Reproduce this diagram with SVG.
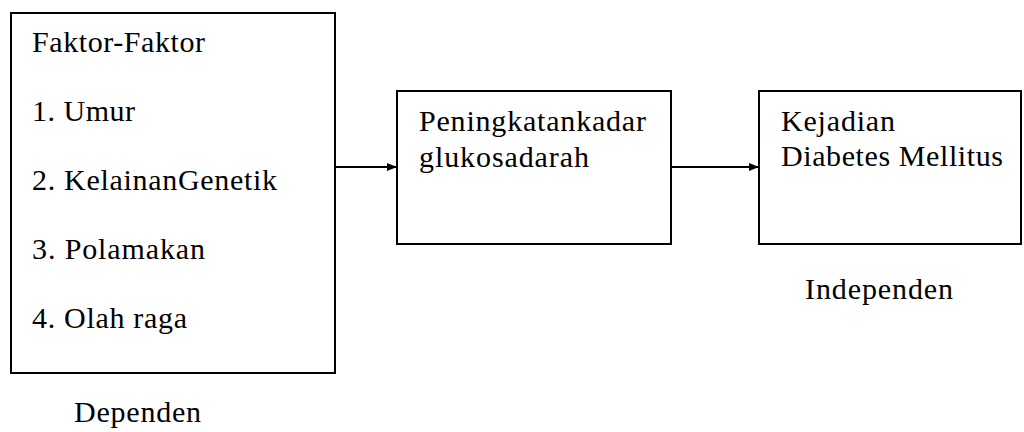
<svg xmlns="http://www.w3.org/2000/svg" width="1024" height="432" viewBox="0 0 1024 432">
<style>
.box{fill:#fff;stroke:#000;stroke-width:2}
.c{stroke:#000;stroke-width:2;fill:none}
</style>
<defs>
<marker id="ah" markerWidth="10" markerHeight="8" refX="9" refY="4" orient="auto" markerUnits="userSpaceOnUse">
<path d="M0,0 L10,4 L0,8 Z" fill="#000"/>
</marker>
</defs>
<rect width="1024" height="432" fill="#fff"/>
<g font-family="Liberation Serif, Times New Roman, serif" font-size="30" fill="#000">
<g id="faktor">
<rect class="box" x="11" y="13" width="324" height="360"/>
<text x="32" y="52" textLength="173" lengthAdjust="spacing">Faktor-Faktor</text>
<text x="32" y="121" textLength="103" lengthAdjust="spacing">1. Umur</text>
<text x="32" y="190" textLength="245" lengthAdjust="spacing">2. KelainanGenetik</text>
<text x="32" y="259" textLength="173" lengthAdjust="spacing">3. Polamakan</text>
<text x="32" y="328" textLength="155" lengthAdjust="spacing">4. Olah raga</text>
</g>
<g id="dependen">
<text x="74" y="422" textLength="127" lengthAdjust="spacing">Dependen</text>
</g>
<g id="peningkatan">
<rect class="box" x="397" y="91" width="274" height="153"/>
<text x="419" y="131" textLength="227" lengthAdjust="spacing">Peningkatankadar</text>
<text x="419" y="167" textLength="170" lengthAdjust="spacing">glukosadarah</text>
</g>
<g id="kejadian">
<rect class="box" x="759" y="91" width="262" height="153"/>
<text x="781" y="131" textLength="114" lengthAdjust="spacing">Kejadian</text>
<text x="781" y="166" textLength="222" lengthAdjust="spacing">Diabetes Mellitus</text>
</g>
<g id="independen">
<text x="805" y="299" textLength="148" lengthAdjust="spacing">Independen</text>
</g>
</g>
<g id="connectors">
<line class="c" x1="335" y1="167" x2="396" y2="167" marker-end="url(#ah)"/>
<line class="c" x1="671" y1="167" x2="758" y2="167" marker-end="url(#ah)"/>
</g>
</svg>
